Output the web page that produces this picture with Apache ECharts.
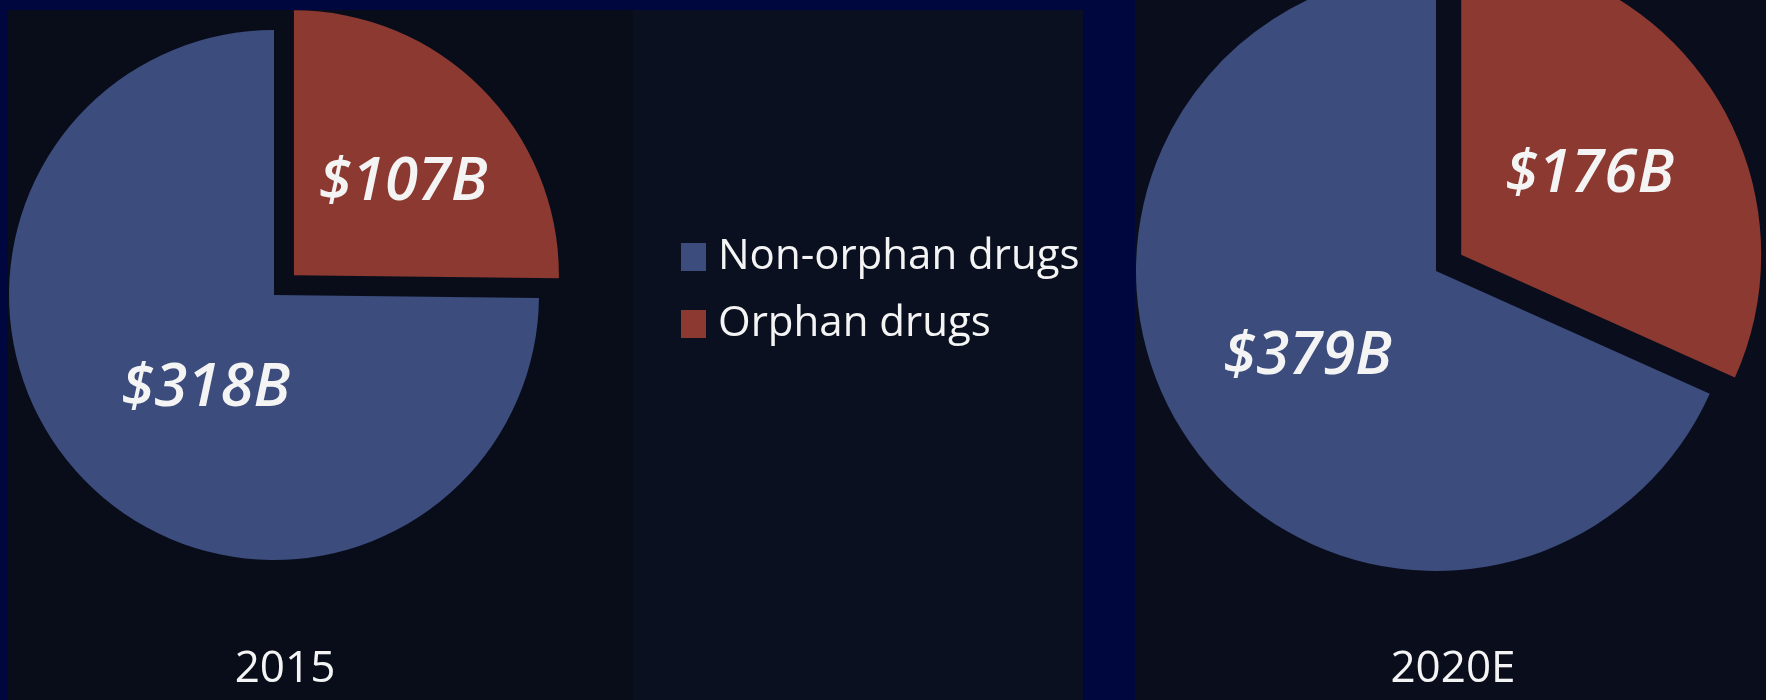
<!DOCTYPE html>
<html>
<head>
<meta charset="utf-8">
<script src="https://cdn.jsdelivr.net/npm/echarts@6/dist/echarts.min.js"></script>
<style>
  html, body { margin: 0; padding: 0; width: 1766px; height: 700px; overflow: hidden; background: #00073e; }
  .panel { position: absolute; }
  #chart { position: absolute; left: 0; top: 0; width: 1766px; height: 700px; }
</style>
</head>
<body>
<div class="panel" style="left:8px;top:10px;width:625px;height:690px;background:#090d1a;"></div>
<div class="panel" style="left:633px;top:10px;width:450px;height:690px;background:#0b1020;"></div>
<div class="panel" style="left:1135px;top:0;width:631px;height:700px;background:#0a0e1c;"></div>
<div id="chart"></div>
<script>
// ---- data ----
const categories = ['Orphan drugs', 'Non-orphan drugs'];
const legendOrder = ['Non-orphan drugs', 'Orphan drugs'];
const years = ['2015', '2020E'];
const values2015 = [107, 318];
const values2020 = [176, 379];

// ---- style ----
const colors = { 'Orphan drugs': '#8c3a31', 'Non-orphan drugs': '#3b4c7d' };
const textColor = '#f4f4f4';
const labelFont = 'Open Sans';

function pieData(values) {
  return categories.map((name, i) => ({
    name: name,
    value: values[i],
    selected: name === 'Orphan drugs',
    itemStyle: { color: colors[name] }
  }));
}

function pieSeries(name, values, center, radius, offset, labelShift) {
  return {
    name: name,
    type: 'pie',
    center: center,
    radius: radius,
    startAngle: 90,
    clockwise: true,
    selectedMode: 'single',
    selectedOffset: offset,
    avoidLabelOverlap: false,
    silent: true,
    emphasis: { disabled: true },
    itemStyle: { borderWidth: 0 },
    label: {
      show: true,
      position: 'inside',
      formatter: p => '$' + p.value + 'B',
      color: textColor,
      fontFamily: labelFont,
      fontStyle: 'italic',
      fontWeight: 600,
      fontSize: 60
    },
    labelLine: { show: false },
    labelLayout: p => labelShift[p.dataIndex],
    data: pieData(values)
  };
}

const chart = echarts.init(document.getElementById('chart'), null, { renderer: 'canvas' });
chart.setOption({
  backgroundColor: 'transparent',
  animation: false,
  title: [
    { text: years[0], left: 280, top: 639, textAlign: 'center',
      textStyle: { color: textColor, fontFamily: labelFont, fontWeight: 500, fontSize: 44, lineHeight: 50 } },
    { text: years[1], left: 1448, top: 639, textAlign: 'center',
      textStyle: { color: textColor, fontFamily: labelFont, fontWeight: 500, fontSize: 44, lineHeight: 50 } }
  ],
  legend: {
    orient: 'vertical',
    left: 681,
    top: 236,
    padding: 0,
    itemWidth: 25,
    itemHeight: 28,
    itemGap: 25,
    icon: 'rect',
    selectedMode: false,
    data: legendOrder.map(n => ({ name: n, itemStyle: { color: colors[n] } })),
    textStyle: { color: textColor, fontFamily: labelFont, fontWeight: 500, fontSize: 42, padding: [0, 0, 0, 7] }
  },
  series: [
    pieSeries(years[0], values2015, [274, 295], 265, 28, [{ dx: 13, dy: 3 }, { dx: 28, dy: -1 }]),
    pieSeries(years[1], values2020, [1436, 271], 300, 30, [{ dx: 0, dy: 3 }, { dx: 0, dy: 3 }])
  ]
});
</script>
</body>
</html>
